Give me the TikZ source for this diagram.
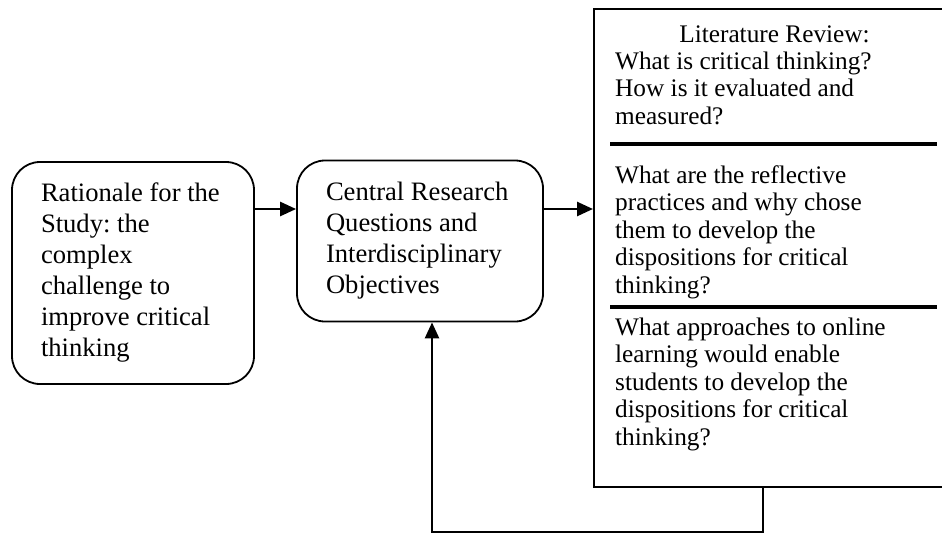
\documentclass[tikz,border=0pt]{standalone}
\usepackage{fontspec}
\setmainfont{Liberation Serif}
\usetikzlibrary{arrows.meta}
\frenchspacing
\begin{document}
\begin{tikzpicture}[x=1pt,y=-1pt,
  roundbox/.style={draw, line width=1.8pt, rounded corners=28pt, align=flush left,
    inner xsep=29pt, inner ysep=0pt, font=\fontsize{26.6}{31}\selectfont},
  flow/.style={line width=2.6pt, -{Triangle[length=16pt,width=14pt]}},
  divider/.style={line width=3.8pt},
  littext/.style={font=\fontsize{25.3}{27.4}\selectfont, align=flush left,
    inner sep=0pt, anchor=base west}
]
\clip (0,0) rectangle (942,533);

% left and middle rounded boxes
\node[roundbox, text width=184pt, minimum width=240pt, minimum height=222pt]
  (rat) at (133,273) {Rationale for the\\Study: the\\complex\\challenge to\\improve critical\\thinking};
\node[roundbox, text width=188pt, minimum width=246pt, minimum height=161pt]
  (mid) at (420,241) {Central Research\\Questions and\\Interdisciplinary\\Objectives};

% literature review box, running off the right edge
\node[draw, line width=1.6pt, anchor=north west, inner sep=0pt,
  minimum width=360pt, minimum height=478pt] (lit) at (593,8) {};

% text blocks, each placed by the baseline of its last line
\node[font=\fontsize{25.3}{27.4}\selectfont, inner sep=0pt, anchor=base]
  (head) at (774.5,42) {Literature Review:};
\node[littext] (q1) at (615,124) {What is critical thinking?\\How is it evaluated and\\measured?};
\node[littext] (q2) at (615,293) {What are the reflective\\practices and why chose\\them to develop the\\dispositions for critical\\thinking?};
\node[littext] (q3) at (615,445) {What approaches to online\\learning would enable\\students to develop the\\dispositions for critical\\thinking?};

\draw[divider] (610,144) -- (937,144);
\draw[divider] (610,307) -- (937,307);

% connectors
\coordinate (rowA) at (0,209);
\draw[flow] (rat.east |- rowA) -- (mid.west |- rowA);
\draw[flow] (mid.east |- rowA) -- (lit.west |- rowA);

\coordinate (fbR) at (763,532);
\coordinate (fbL) at (432,532);
\draw[flow] (lit.south -| fbR) -- (fbR) -- (fbL) -- (mid.south -| fbL);
\end{tikzpicture}
\end{document}
